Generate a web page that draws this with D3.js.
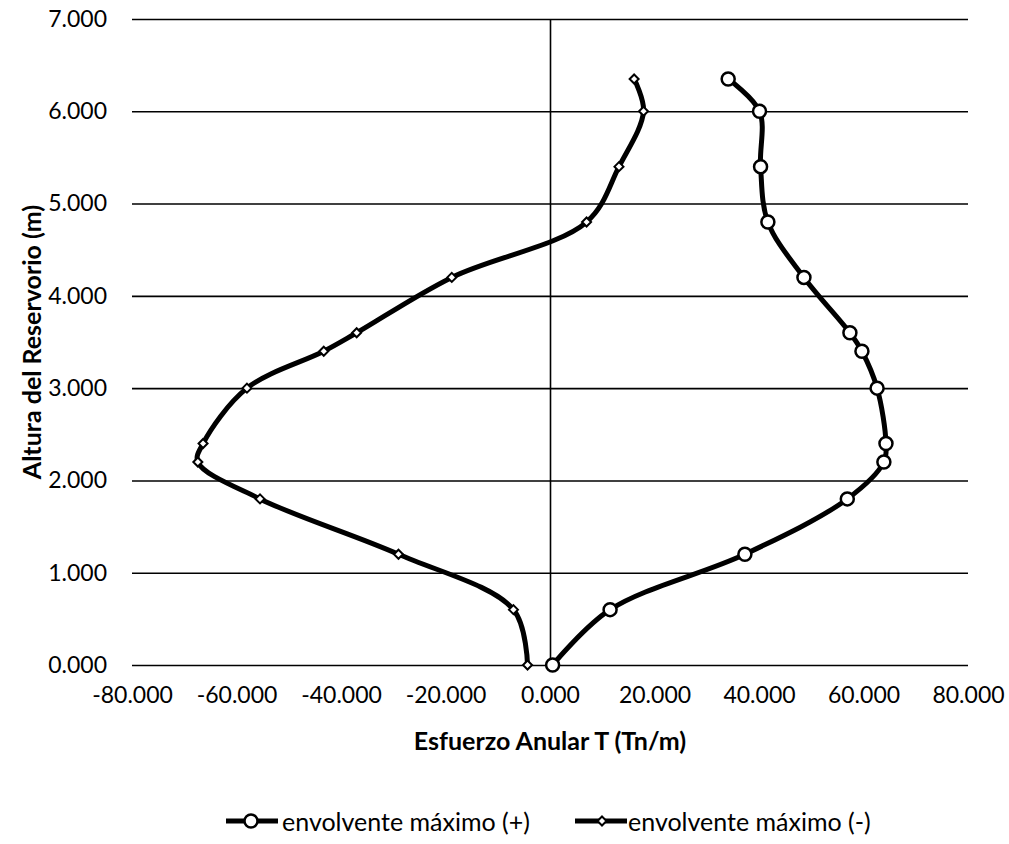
<!DOCTYPE html>
<html>
<head>
<meta charset="utf-8">
<script src="https://cdn.jsdelivr.net/npm/d3@7"></script>
<style>
  html, body { margin: 0; padding: 0; background: #fff; }
  text { font-family: Lato, "Noto Sans", sans-serif; fill: #000; }
</style>
</head>
<body>
<svg id="chart" width="1009" height="844"></svg>
<script>
// ---- data ----
const heights = [0, 0.6, 1.2, 1.8, 2.2, 2.4, 3.0, 3.4, 3.6, 4.2, 4.8, 5.4, 6.0, 6.35];
const envPos  = [0.5, 11.5, 37.3, 56.9, 63.9, 64.3, 62.6, 59.7, 57.4, 48.6, 41.7, 40.3, 40.1, 34.1];
const envNeg  = [-4.3, -7.0, -29.0, -55.5, -67.4, -66.4, -58.0, -43.3, -37.0, -18.8, 7.0, 13.2, 17.9, 16.1];
const xTicks = [-80, -60, -40, -20, 0, 20, 40, 60, 80];
const yTicks = [0, 1, 2, 3, 4, 5, 6, 7];
const seriesNames = ["envolvente máximo (+)", "envolvente máximo (-)"];
const xTitle = "Esfuerzo Anular T (Tn/m)";
const yTitle = "Altura del Reservorio (m)";

// ---- layout ----
const svg = d3.select("#chart");
const pL = 132, pR = 968, pT = 19, pB = 665;
const x = d3.scaleLinear().domain([-80, 80]).range([pL, pR]);
const y = d3.scaleLinear().domain([0, 7]).range([pB, pT]);
const loc = d3.formatLocale({ decimal: ".", thousands: ",", grouping: [3], currency: ["$", ""], minus: "-" });
const fmt = loc.format(".3f");

// gridlines
const gy = svg.append("g").attr("transform", `translate(${pL},0)`)
  .call(d3.axisLeft(y).tickValues(yTicks).tickSize(-(pR - pL)).tickFormat(""));
gy.select(".domain").remove();
gy.selectAll(".tick line").attr("stroke", "#000").attr("stroke-width", 1.6);

// y tick labels
const yl = svg.append("g").attr("transform", `translate(${pL},0)`)
  .call(d3.axisLeft(y).tickValues(yTicks).tickSize(0).tickPadding(25).tickFormat(fmt));
yl.select(".domain").remove();
yl.selectAll("text").style("font-size", "23px").style("font-family", "Lato");

// vertical axis line at x = 0
const va = svg.append("g").attr("transform", `translate(${x(0)},0)`)
  .call(d3.axisLeft(y).tickValues(yTicks).tickSize(0).tickFormat(""));
va.select(".domain").attr("stroke", "#000").attr("stroke-width", 1.6);

// x tick labels
const xl = svg.append("g").attr("transform", `translate(0,${pB})`)
  .call(d3.axisBottom(x).tickValues(xTicks).tickSize(0).tickPadding(22).tickFormat(fmt));
xl.select(".domain").remove();
xl.selectAll("text").style("font-size", "23px").style("font-family", "Lato");

// axis titles
svg.append("text")
  .attr("x", (pL + pR) / 2).attr("y", 750)
  .attr("text-anchor", "middle")
  .style("font-size", "25px").style("font-weight", "bold")
  .text(xTitle);
svg.append("text")
  .attr("transform", `translate(41,${(pT + pB) / 2}) rotate(-90)`)
  .attr("text-anchor", "middle")
  .style("font-size", "25px").style("font-weight", "bold")
  .text(yTitle);

// lines
const line = d3.line().curve(d3.curveCatmullRom.alpha(0.5))
  .x(d => x(d[0])).y(d => y(d[1]));
const posData = heights.map((h, i) => [envPos[i], h]);
const negData = heights.map((h, i) => [envNeg[i], h]);

svg.append("path").datum(negData).attr("d", line)
  .attr("fill", "none").attr("stroke", "#000").attr("stroke-width", 5)
  .attr("stroke-linejoin", "round");
svg.append("path").datum(posData).attr("d", line)
  .attr("fill", "none").attr("stroke", "#000").attr("stroke-width", 5)
  .attr("stroke-linejoin", "round");

const diamond = (cx, cy, w, h) => `M${cx},${cy - h}L${cx + w},${cy}L${cx},${cy + h}L${cx - w},${cy}Z`;

svg.append("g").selectAll("path").data(negData).join("path")
  .attr("d", d => diamond(x(d[0]), y(d[1]), 4.5, 4.5))
  .attr("fill", "#fff").attr("stroke", "#000").attr("stroke-width", 2);

svg.append("g").selectAll("circle").data(posData).join("circle")
  .attr("cx", d => x(d[0])).attr("cy", d => y(d[1])).attr("r", 6.5)
  .attr("fill", "#fff").attr("stroke", "#000").attr("stroke-width", 2.5);

// legend
const legY = 821;
const leg = svg.append("g");
const items = [
  { name: seriesNames[0], x0: 226, type: "circle" },
  { name: seriesNames[1], x0: 575, type: "diamond" }
];
items.forEach(it => {
  leg.append("line").attr("x1", it.x0).attr("x2", it.x0 + 52)
    .attr("y1", legY).attr("y2", legY)
    .attr("stroke", "#000").attr("stroke-width", 5);
  if (it.type === "circle") {
    leg.append("circle").attr("cx", it.x0 + 25).attr("cy", legY).attr("r", 6.5)
      .attr("fill", "#fff").attr("stroke", "#000").attr("stroke-width", 2.5);
  } else {
    leg.append("path").attr("d", diamond(it.x0 + 27, legY, 4.5, 4.5))
      .attr("fill", "#fff").attr("stroke", "#000").attr("stroke-width", 2);
  }
  leg.append("text").attr("x", it.x0 + (it.type === "circle" ? 56 : 53)).attr("y", legY)
    .attr("dominant-baseline", "central")
    .style("font-size", "25px")
    .text(it.name);
});
</script>
</body>
</html>
